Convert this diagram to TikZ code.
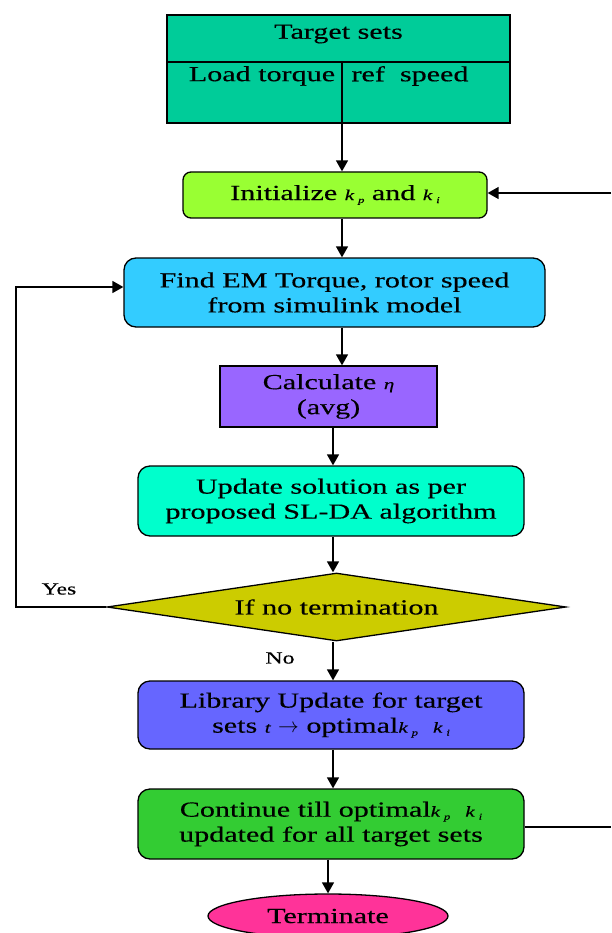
\documentclass[tikz,border=0pt]{standalone}
\usepackage{fontspec}
\setmainfont{Liberation Serif}[FakeStretch=1.4,FakeBold=0.35]
\usetikzlibrary{shapes.geometric,arrows.meta}
\definecolor{ctgt}{HTML}{00CC99}
\definecolor{cinit}{HTML}{99FF33}
\definecolor{cfind}{HTML}{33CCFF}
\definecolor{ccalc}{HTML}{9966FF}
\definecolor{cupd}{HTML}{00FFCC}
\definecolor{cdec}{HTML}{CCCC00}
\definecolor{clib}{HTML}{6666FF}
\definecolor{ccont}{HTML}{33CC33}
\definecolor{cterm}{HTML}{FF3399}
\newcommand{\kpi}[1]{{\fontsize{15}{15}\selectfont\itshape k\kern4pt\raisebox{-3pt}{\fontsize{9}{9}\selectfont #1}}}
\begin{document}
\begin{tikzpicture}[x=1pt,y=-1pt,
  every node/.style={font=\fontsize{21.5}{25}\selectfont, align=center, inner sep=0pt},
  box/.style={draw, line width=1.3pt, rectangle},
  rbox/.style={box, rounded corners=10pt},
  arr/.style={-{Triangle[length=11pt,width=12pt]}, line width=1.4pt},
  ln/.style={line width=1.4pt},
  lbl/.style={font=\fontsize{17}{19}\selectfont}]
\useasboundingbox (0,0) rectangle (611,933);
% target sets box
\node[box, fill=ctgt, minimum width=343pt, minimum height=108pt] (target) at (338.5,69) {};
\coordinate (div) at (342,62);
\draw[line width=1.3pt] (target.west |- div) -- (target.east |- div);
\draw[line width=1.3pt] (div) -- (div |- target.south);
\node (ts) at (338.5,34) {Target sets};
\node (lt) at (262,76) {Load torque};
\node (rs) at (410,76) {ref\ \ speed};
% flow boxes
\node[rbox, fill=cinit, minimum width=304pt, minimum height=46pt, rounded corners=8pt] (init) at (335,195) {Initialize \kpi{p} and \kpi{i}};
\node[rbox, fill=cfind, minimum width=421pt, minimum height=69pt, rounded corners=12pt] (findem) at (334.5,292.5) {Find EM Torque, rotor speed\\from simulink model};
\node[box, fill=ccalc, minimum width=217pt, minimum height=61pt] (calc) at (328.5,396.5) {Calculate {\fontsize{15}{15}\selectfont\itshape η}\\(avg)};
\node[rbox, fill=cupd, minimum width=386pt, minimum height=70pt, rounded corners=12pt] (update) at (331,501) {Update solution as per\\proposed SL-DA algorithm};
\node[draw, line width=1.3pt, diamond, shape aspect=6.75, fill=cdec, minimum width=459pt, minimum height=68pt] (dec) at (336.5,607) {If no termination};
\node[rbox, fill=clib, minimum width=386pt, minimum height=68pt, rounded corners=12pt] (lib) at (331,715) {Library Update for target\\sets {\fontsize{15}{15}\selectfont\itshape t} $\rightarrow$\ optimal\kpi{p}\ \ \kpi{i}};
\node[rbox, fill=ccont, minimum width=386pt, minimum height=70pt, rounded corners=12pt] (cont) at (331,824) {Continue till optimal\kpi{p}\ \ \kpi{i}\\updated for all target sets};
\node[draw, line width=1.3pt, ellipse, fill=cterm, minimum width=240pt, minimum height=44pt] (term) at (328,916) {Terminate};
% labels
\node[lbl] (yes) at (59,589) {Yes};
\node[lbl] (no) at (280,658) {No};
% connectors
\coordinate (colA) at (342,0);
\coordinate (colB) at (333,0);
\draw[arr] (div |- target.south) -- (div |- init.north);
\draw[arr] (init.south -| colA) -- (findem.north -| colA);
\draw[arr] (findem.south -| colA) -- (calc.north -| colA);
\draw[arr] (calc.south -| colB) -- (update.north -| colB);
\draw[arr] (update.south -| colB) -- (dec.north -| colB);
\draw[arr] (dec.south -| colB) -- (lib.north -| colB);
\draw[arr] (lib.south -| colB) -- (cont.north -| colB);
\draw[arr] (cont.south -| term.north) -- (term.north);
\coordinate (loopc) at (16,287);
\draw[arr] (dec.west) -| (loopc) -- (loopc -| findem.west);
\coordinate (rin) at (611,193);
\draw[arr] (rin) -- (rin -| init.east);
\coordinate (rout) at (611,827);
\draw[ln] (cont.east |- rout) -- (rout);
\end{tikzpicture}
\end{document}
